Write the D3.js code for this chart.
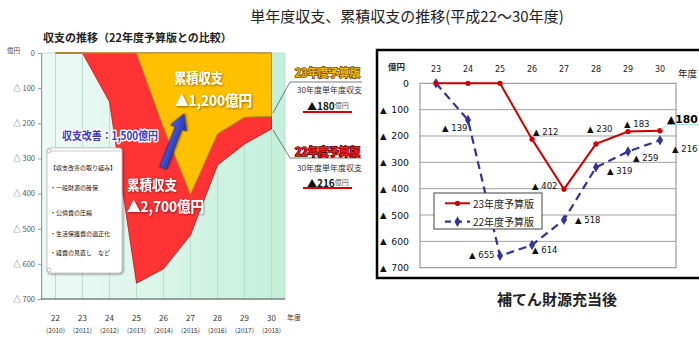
<!DOCTYPE html>
<html>
<head>
<meta charset="utf-8">
<script src="https://cdn.jsdelivr.net/npm/d3@7"></script>
<style>
  body { margin: 0; background: #fff; }
  svg { display: block; }
  text { font-family: "Noto Sans CJK JP", "Noto Sans", sans-serif; }
  .num { font-family: "DejaVu Sans", sans-serif; }
</style>
</head>
<body>
<svg id="chart" width="699" height="338"></svg>
<script>
// Fiscal years (Heisei) and their western equivalents
const fiscalYears = ["22", "23", "24", "25", "26", "27", "28", "29", "30"];
const westernYears = ["(2010)", "(2011)", "(2012)", "(2013)", "(2014)", "(2015)", "(2016)", "(2017)", "(2018)"];
// Single-year balance shortfall (億円) for each fiscal year 22..30
const budget22 = [0, 0, 139, 655, 614, 518, 319, 259, 216];   // 22年度予算版
const budget23 = [0, 0, 0, 0, 212, 402, 230, 183, 180];       // 23年度予算版
const yTicks = [0, 100, 200, 300, 400, 500, 600, 700];
const measures = ["【収支改善の取り組み】", "・一般財源の確保", "・公債費の圧縮", "・生活保護費の適正化", "・経費の見直し　など"];

// Right-hand chart covers fiscal years 23..30
const rightYears = fiscalYears.slice(1);
const right22 = budget22.slice(1);
const right23 = budget23.slice(1);
// value-label placement relative to each point [dx, dy]; null = no label
const off23 = [null, null, null, [1, -7], [-32, -3], [-9, -14.6], [-4, -8], [7, -11]];
const off22 = [null, [-26, 8.4], [-31, -1], [0, 5], [11, 0], [11, 4], [5, 6], [12, 9]];

const svg = d3.select("#chart");
const defs = svg.append("defs");

const bg = defs.append("linearGradient").attr("id", "mint").attr("x1", 0).attr("x2", 1).attr("y1", 0).attr("y2", 0);
bg.append("stop").attr("offset", "0%").attr("stop-color", "#eefaf7");
bg.append("stop").attr("offset", "100%").attr("stop-color", "#c3efdb");

const arrowGrad = defs.append("linearGradient").attr("id", "arrowFill").attr("x1", 0).attr("x2", 0).attr("y1", 0).attr("y2", 1);
arrowGrad.append("stop").attr("offset", "0%").attr("stop-color", "#4a63e6");
arrowGrad.append("stop").attr("offset", "100%").attr("stop-color", "#2233aa");

const shadow = defs.append("filter").attr("id", "shadow").attr("x", "-20%").attr("y", "-20%").attr("width", "140%").attr("height", "140%");
shadow.append("feDropShadow").attr("dx", 1).attr("dy", 1).attr("stdDeviation", 0.9)
  .attr("flood-color", "#000").attr("flood-opacity", 0.45);

// Page title
svg.append("text").attr("x", 407).attr("y", 15).attr("text-anchor", "middle")
  .attr("dominant-baseline", "central").attr("font-size", 15).attr("fill", "#222")
  .text("単年度収支、累積収支の推移(平成22～30年度)");

// ---------------- Left: area comparison ----------------
const xL = d3.scaleBand().domain(fiscalYears).range([42, 285]);
const cxL = d => xL(d) + xL.bandwidth() / 2;
const yL = d3.scaleLinear().domain([0, 700]).range([53, 299]);

svg.append("text").attr("x", 43).attr("y", 37).attr("dominant-baseline", "central")
  .attr("font-size", 11).attr("font-weight", "bold").attr("fill", "#222")
  .text("収支の推移（22年度予算版との比較）");

const left = svg.append("g");
left.append("rect").attr("x", 42).attr("y", yL(0)).attr("width", 243).attr("height", yL(700) - yL(0))
  .attr("fill", "url(#mint)").attr("stroke", "#b6dccb").attr("stroke-width", 0.8);

left.selectAll("line.vg").data(fiscalYears).join("line").attr("class", "vg")
  .attr("x1", cxL).attr("x2", cxL).attr("y1", yL(0)).attr("y2", yL(700))
  .attr("stroke", "#b2d9c8").attr("stroke-width", 0.8);

const areaL = d3.area().x((d, i) => cxL(fiscalYears[i])).y0(yL(0)).y1(d => yL(d));
left.append("path").datum(budget22).attr("d", areaL)
  .attr("fill", "#ff3333").attr("stroke", "#b81414").attr("stroke-width", 0.8);
left.append("path").datum(budget23).attr("d", areaL)
  .attr("fill", "#ffc000").attr("stroke", "#b09020").attr("stroke-width", 1);

// y axis
const axL = d3.axisLeft(yL).tickValues(yTicks).tickSize(3).tickPadding(3)
  .tickFormat(v => v === 0 ? "0" : "△ " + v);
const gAxL = left.append("g").attr("transform", "translate(41,0)").call(axL);
gAxL.select(".domain").attr("stroke", "#999");
gAxL.selectAll(".tick line").attr("stroke", "#999");
gAxL.selectAll(".tick text").attr("font-size", 7.5).attr("fill", "#555")
  .attr("font-family", "'Noto Sans CJK JP', sans-serif");
left.append("line").attr("x1", 41).attr("x2", 285).attr("y1", yL(700)).attr("y2", yL(700))
  .attr("stroke", "#555").attr("stroke-width", 1.2);
left.append("text").attr("x", 7).attr("y", 50).attr("dominant-baseline", "central")
  .attr("font-size", 6.5).attr("fill", "#444").text("億円");

// x labels
left.selectAll("text.fy").data(fiscalYears).join("text").attr("class", "fy")
  .attr("x", cxL).attr("y", 317).attr("text-anchor", "middle").attr("dominant-baseline", "central")
  .attr("font-size", 8).attr("fill", "#333").text(d => d);
left.selectAll("text.wy").data(westernYears).join("text").attr("class", "wy")
  .attr("x", (d, i) => cxL(fiscalYears[i])).attr("y", 330).attr("text-anchor", "middle")
  .attr("dominant-baseline", "central").attr("font-size", 6.5).attr("fill", "#333").text(d => d);
left.append("text").attr("x", 287).attr("y", 317).attr("dominant-baseline", "central")
  .attr("font-size", 7).attr("fill", "#333").text("年度");

// Improvement arrow
const tail = [163, 168], tip = [184, 114];
const aLen = Math.hypot(tip[0] - tail[0], tip[1] - tail[1]);
const aAng = Math.atan2(tip[1] - tail[1], tip[0] - tail[0]) * 180 / Math.PI;
const hl = 15;
left.append("path")
  .attr("transform", `translate(${tail[0]},${tail[1]}) rotate(${aAng})`)
  .attr("d", `M0,-3.6 L${aLen - hl},-3.6 L${aLen - hl},-8.5 L${aLen},0 L${aLen - hl},8.5 L${aLen - hl},3.6 L0,3.6 Z`)
  .attr("fill", "url(#arrowFill)").attr("stroke", "#1a2380").attr("stroke-width", 0.7)
  .attr("filter", "url(#shadow)");

// Big white labels
function bigText(x, y, str, size, len) {
  left.append("text").attr("x", x).attr("y", y).attr("dominant-baseline", "central")
    .attr("font-size", size).attr("font-weight", "bold").attr("fill", "#fff")
    .attr("textLength", len).attr("lengthAdjust", "spacingAndGlyphs")
    .attr("filter", "url(#shadow)").text(str);
}
bigText(174, 77, "累積収支", 14, 49);
bigText(175, 99, "▲1,200億円", 15, 77);
bigText(127, 184, "累積収支", 14, 50);
bigText(127, 205, "▲2,700億円", 15, 77);

left.append("text").attr("x", 62).attr("y", 135).attr("dominant-baseline", "central")
  .attr("font-size", 11).attr("font-weight", "bold").attr("fill", "#3a3ac8")
  .attr("stroke", "#fff").attr("stroke-width", 3).attr("paint-order", "stroke")
  .attr("stroke-linejoin", "round")
  .attr("textLength", 96).attr("lengthAdjust", "spacingAndGlyphs")
  .text("収支改善：1,500億円");

// Measures note
const note = left.append("g");
note.append("rect").attr("x", 47).attr("y", 148).attr("width", 75).attr("height", 125).attr("rx", 3)
  .attr("fill", "#fff").attr("stroke", "#bbb").attr("stroke-width", 0.8).attr("filter", "url(#shadow)");
note.append("line").attr("x1", 49).attr("x2", 121).attr("y1", 151).attr("y2", 151).attr("stroke", "#ccc");
note.append("circle").attr("cx", 49).attr("cy", 151).attr("r", 2).attr("fill", "#fff").attr("stroke", "#999").attr("stroke-width", 0.6);
note.append("circle").attr("cx", 49).attr("cy", 270).attr("r", 2).attr("fill", "#fff").attr("stroke", "#999").attr("stroke-width", 0.6);
const noteY = [167, 187, 212, 233, 252];
note.selectAll("text").data(measures).join("text")
  .attr("x", 50).attr("y", (d, i) => noteY[i]).attr("dominant-baseline", "central")
  .attr("font-size", 6).attr("fill", "#111").text(d => d);

// Callouts for FY30
const co = svg.append("g");
co.append("polyline").attr("points", "273,113 290,82 362,82").attr("fill", "none").attr("stroke", "#444").attr("stroke-width", 0.7);
co.append("polyline").attr("points", "273,130 290,158 362,158").attr("fill", "none").attr("stroke", "#444").attr("stroke-width", 0.7);
co.append("text").attr("x", 295).attr("y", 72).attr("dominant-baseline", "central")
  .attr("font-size", 11).attr("font-weight", "bold").attr("fill", "#f5b800")
  .attr("stroke", "#6b4a00").attr("stroke-width", 1.6).attr("paint-order", "stroke")
  .attr("textLength", 65).attr("lengthAdjust", "spacingAndGlyphs").text("23年度予算版");
co.append("text").attr("x", 295).attr("y", 151).attr("dominant-baseline", "central")
  .attr("font-size", 11).attr("font-weight", "bold").attr("fill", "#ff1a1a")
  .attr("stroke", "#5a0000").attr("stroke-width", 1.6).attr("paint-order", "stroke")
  .attr("textLength", 65).attr("lengthAdjust", "spacingAndGlyphs").text("22年度予算版");
[[89, 105, 112, budget23[8]], [167, 182, 188, budget22[8]]].forEach(([ys, yv, yu, v]) => {
  co.append("text").attr("x", 297).attr("y", ys).attr("dominant-baseline", "central")
    .attr("font-size", 8).attr("fill", "#333")
    .attr("textLength", 65).attr("lengthAdjust", "spacingAndGlyphs").text("30年度単年度収支");
  const t = co.append("text").attr("x", 307).attr("y", yv).attr("dominant-baseline", "central");
  t.append("tspan").attr("font-size", 10).attr("font-weight", "bold").attr("fill", "#111").text("▲" + v);
  t.append("tspan").attr("font-size", 7).attr("fill", "#555").text("億円");
  co.append("line").attr("x1", 303).attr("x2", 352).attr("y1", yu).attr("y2", yu)
    .attr("stroke", "#e00000").attr("stroke-width", 1.8);
});

// ---------------- Right: line chart ----------------
const xR = d3.scaleBand().domain(rightYears).range([420, 676]);
const cxR = d => xR(d) + xR.bandwidth() / 2;
const yR = d3.scaleLinear().domain([0, 700]).range([83.3, 267.7]);
const right = svg.append("g");

right.append("rect").attr("x", 377).attr("y", 50).attr("width", 340).attr("height", 228)
  .attr("fill", "#fff").attr("stroke", "#000").attr("stroke-width", 2.5);

right.selectAll("line.hg").data(yTicks.slice(1, -1)).join("line").attr("class", "hg")
  .attr("x1", 420).attr("x2", 676).attr("y1", yR).attr("y2", yR)
  .attr("stroke", "#a0a0a0").attr("stroke-width", 1);
right.append("rect").attr("x", 420).attr("y", yR(0)).attr("width", 256).attr("height", yR(700) - yR(0))
  .attr("fill", "none").attr("stroke", "#8a8a8a").attr("stroke-width", 1);

// axis labels
right.selectAll("text.top").data(rightYears).join("text").attr("class", "top num")
  .attr("x", cxR).attr("y", 69.3).attr("text-anchor", "middle").attr("dominant-baseline", "central")
  .attr("font-size", 8).attr("fill", "#222").text(d => d);
right.append("text").attr("x", 388).attr("y", 66).attr("dominant-baseline", "central")
  .attr("font-size", 8.5).attr("font-weight", "bold").attr("fill", "#222").text("億円");
right.append("text").attr("x", 678).attr("y", 72.7).attr("dominant-baseline", "central")
  .attr("font-size", 9.5).attr("fill", "#222").text("年度");
right.selectAll("text.yl").data(yTicks).join("text").attr("class", "yl num")
  .attr("x", 409).attr("y", yR).attr("text-anchor", "end").attr("dominant-baseline", "central")
  .attr("font-size", 9.3).attr("fill", "#111").text(d => d);
right.selectAll("text.ytri").data(yTicks.filter(v => v > 0)).join("text").attr("class", "ytri num")
  .attr("x", 380).attr("y", yR).attr("dominant-baseline", "central")
  .attr("font-size", 8.5).attr("fill", "#111").text("▲");

// lines
const lineR = d3.line().x((d, i) => cxR(rightYears[i])).y(d => yR(d));
right.append("path").datum(right22).attr("d", lineR).attr("fill", "none")
  .attr("stroke", "#33339a").attr("stroke-width", 2.2).attr("stroke-dasharray", "8,5");
right.append("path").datum(right23).attr("d", lineR).attr("fill", "none")
  .attr("stroke", "#cc0000").attr("stroke-width", 2);
const diamond = d3.symbol().type(d3.symbolDiamond).size(32);
right.selectAll("path.dm").data(right22).join("path").attr("class", "dm")
  .attr("transform", (d, i) => `translate(${cxR(rightYears[i])},${yR(d)})`)
  .attr("d", diamond).attr("fill", "#33339a");
right.selectAll("circle.pt").data(right23).join("circle").attr("class", "pt")
  .attr("cx", (d, i) => cxR(rightYears[i])).attr("cy", d => yR(d)).attr("r", 2.6).attr("fill", "#cc0000");

// value labels
function valueLabels(values, offs) {
  values.forEach((v, i) => {
    const o = offs[i];
    if (!o || i === values.length - 1 && values === right23) return;
    right.append("text").attr("class", "num")
      .attr("x", cxR(rightYears[i]) + o[0]).attr("y", yR(v) + o[1])
      .attr("dominant-baseline", "central").attr("font-size", 8.5).attr("fill", "#111")
      .text("▲ " + v);
  });
}
valueLabels(right23, off23);
valueLabels(right22, off22);
// highlighted FY30 label for the 23 budget
const last = right23.length - 1;
const px = cxR(rightYears[last]), py = yR(right23[last]);
right.append("polyline")
  .attr("points", `${px + 1},${py - 1} ${px + 7},${py - 6} 705,${py - 6}`)
  .attr("fill", "none").attr("stroke", "#9fdede").attr("stroke-width", 1);
right.append("text").attr("class", "num")
  .attr("x", px + off23[last][0]).attr("y", py + off23[last][1])
  .attr("dominant-baseline", "central").attr("font-size", 10.8).attr("font-weight", "bold").attr("fill", "#000")
  .text("▲" + right23[last]);

// legend
const lg = right.append("g");
lg.append("rect").attr("x", 434).attr("y", 193).attr("width", 108).attr("height", 36)
  .attr("fill", "#fff").attr("stroke", "#444").attr("stroke-width", 1);
lg.append("line").attr("x1", 445).attr("x2", 470).attr("y1", 203.3).attr("y2", 203.3)
  .attr("stroke", "#cc0000").attr("stroke-width", 2);
lg.append("circle").attr("cx", 457.5).attr("cy", 203.3).attr("r", 2.6).attr("fill", "#cc0000");
lg.append("line").attr("x1", 445).attr("x2", 470).attr("y1", 221.7).attr("y2", 221.7)
  .attr("stroke", "#33339a").attr("stroke-width", 2.2).attr("stroke-dasharray", "6,5");
lg.append("path").attr("transform", "translate(457.5,221.7)").attr("d", diamond).attr("fill", "#33339a");
lg.append("text").attr("x", 473).attr("y", 203.3).attr("dominant-baseline", "central")
  .attr("font-size", 10).attr("fill", "#222").text("23年度予算版");
lg.append("text").attr("x", 473).attr("y", 221.7).attr("dominant-baseline", "central")
  .attr("font-size", 10).attr("fill", "#222").text("22年度予算版");

svg.append("text").attr("x", 557).attr("y", 298).attr("text-anchor", "middle").attr("dominant-baseline", "central")
  .attr("font-size", 15).attr("font-weight", "bold").attr("fill", "#222").text("補てん財源充当後");
</script>
</body>
</html>
